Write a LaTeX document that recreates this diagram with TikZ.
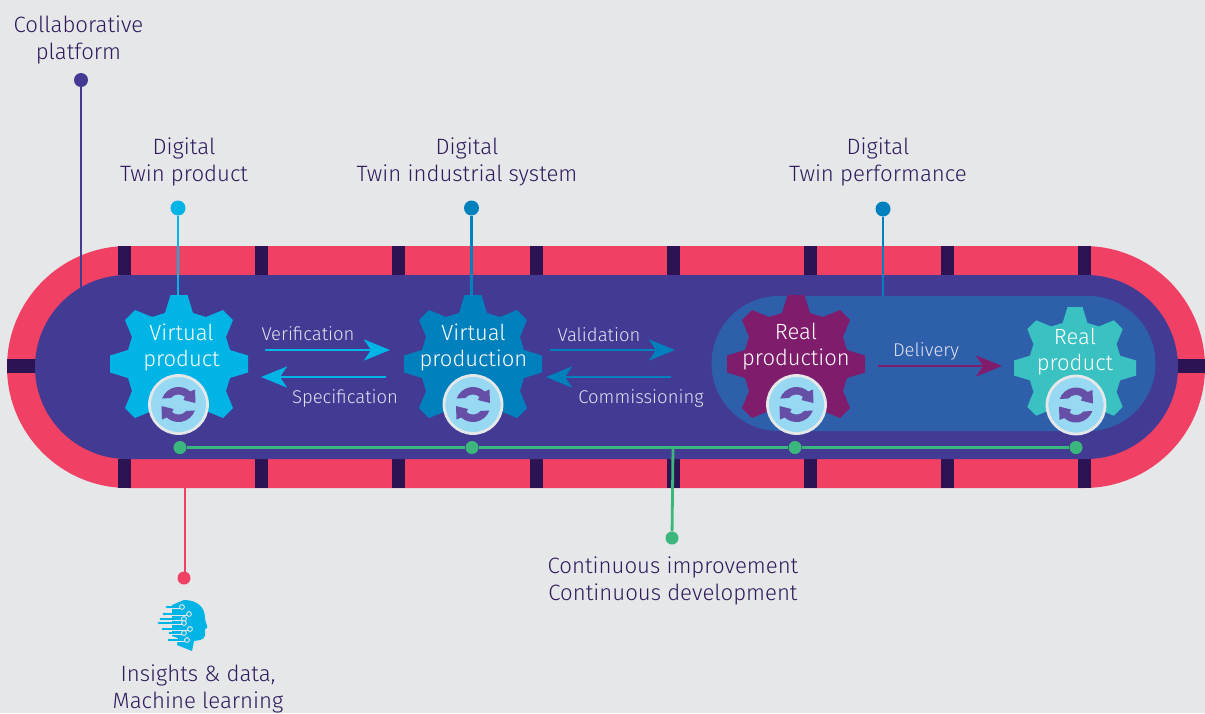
\documentclass[tikz,border=0pt]{standalone}
\usepackage{fontspec}
\setmainfont{Fira Sans Light}
\usetikzlibrary{arrows.meta}
\definecolor{bg}{HTML}{E6E7E9}
\definecolor{ink}{HTML}{2E1A5C}
\definecolor{belt}{HTML}{F04164}
\definecolor{tick}{HTML}{2C1454}
\definecolor{indigo}{HTML}{433A93}
\definecolor{zone}{HTML}{2E5FAB}
\definecolor{cyan1}{HTML}{00B5E5}
\definecolor{blue2}{HTML}{0080BC}
\definecolor{plum}{HTML}{7F1D6C}
\definecolor{teal1}{HTML}{3AC1C2}
\definecolor{green1}{HTML}{3BB77E}
\definecolor{disc}{HTML}{97D9F2}
\definecolor{rim}{HTML}{E6E7E9}
\definecolor{loopc}{HTML}{664FA6}
\definecolor{pale}{HTML}{E2E1F2}
\tikzset{x=1pt,y=-1pt,
 lab/.style={text=ink,align=center,font=\fontsize{22.2}{27}\selectfont,inner sep=0pt},
 gearlab/.style={text=white,align=center,font=\fontsize{22}{26}\selectfont,inner sep=0pt},
 small/.style={text=pale,font=\fontsize{18.5}{20}\selectfont,inner sep=0pt},
 dot/.style={circle,inner sep=0pt,minimum size=#1},
 flow/.style={line width=2.8pt,-{Stealth[length=26pt,width=21pt,inset=7pt]}},
 wire/.style={line width=2.8pt},
}
\newcommand{\gearshape}[4]{% x y R colour
 \fill[#4,shift={(#1,#2)},scale=#3/69]
 (-8.5,-69) -- (8.5,-69) -- (14,-51) -- (27,-47) -- (44,-54) -- (54,-44) -- (47,-27) -- (51,-14) -- (69,-8.5)
 -- (69,8.5) -- (51,14) -- (47,27) -- (54,44) -- (44,54) -- (27,47) -- (14,51) -- (8.5,69) -- (-8.5,69)
 -- (-14,51) -- (-27,47) -- (-44,54) -- (-54,44) -- (-47,27) -- (-51,14) -- (-69,8.5) -- (-69,-8.5)
 -- (-51,-14) -- (-47,-27) -- (-54,-44) -- (-44,-54) -- (-27,-47) -- (-14,-51) -- cycle;}
\newcommand{\loopmark}[3]{% name x y
 \node[dot=58pt,fill=disc,draw=rim,line width=2.8pt] (#1) at (#2,#3) {};
 \fill[loopc,shift={(#2,#3)}]
 (-16.4,-6) arc[start angle=200,end angle=312,radius=17.5] -- (16.5,-15) -- (17,-1.5) -- (5,-4.5) -- (6.4,-7.7)
 arc[start angle=310,end angle=220,radius=10] -- cycle;
 \fill[loopc,shift={(#2,#3)}]
 (16.4,6) arc[start angle=20,end angle=132,radius=17.5] -- (-16.5,15) -- (-17,1.5) -- (-5,4.5) -- (-6.4,7.7)
 arc[start angle=130,end angle=40,radius=10] -- cycle;}
\begin{document}
\begin{tikzpicture}
\useasboundingbox (0,0) rectangle (1205,713);
\fill[bg] (0,0) rectangle (1205,713);
% belt
\fill[belt] (128,246) -- (1084,246) arc[start angle=-90,end angle=90,radius=121] -- (128,488) arc[start angle=90,end angle=270,radius=121] -- cycle;
\foreach \x in {118,255,392,530,667,804,941,1078}{
 \fill[tick] (\x,246) rectangle ++(13,29);
 \fill[tick] (\x,459) rectangle ++(13,29);}
\fill[tick] (7,359) rectangle (36,373);
\fill[tick] (1177,359) rectangle (1205,373);
% connector stems
\node[dot=14pt,fill=indigo] (collab) at (81,80) {};
\coordinate (collabEnd) at (81,292);
\draw[wire,indigo] (collab) -- (collabEnd);
\fill[indigo] (127,275) -- (1086,275) arc[start angle=-90,end angle=90,radius=92] -- (127,459) arc[start angle=90,end angle=270,radius=92] -- cycle;
\fill[zone] (779,296) -- (1088,296) arc[start angle=-90,end angle=90,radius=67.5] -- (779,431) arc[start angle=90,end angle=270,radius=67.5] -- cycle;
% gears
\gearshape{179}{364}{69}{cyan1}
\gearshape{473}{364}{69}{blue2}
\gearshape{796}{364}{69}{plum}
\gearshape{1075}{368}{61}{teal1}
\coordinate (g3) at (883,296);
\coordinate (g1top) at (178,296);
\coordinate (g2top) at (471.5,296);
\node[dot=15pt,fill=cyan1] (dtp) at (178,208) {};
\node[dot=15pt,fill=blue2] (dtis) at (471.5,208) {};
\node[dot=15pt,fill=blue2] (dtperf) at (883,209) {};
\draw[wire,cyan1] (dtp) -- (g1top);
\draw[wire,blue2] (dtis) -- (g2top);
\draw[wire,blue2] (dtperf) -- (g3);
% gear labels
\node[gearlab] at (181.5,347) {Virtual\\product};
\node[gearlab] at (473.5,347) {Virtual\\production};
\node[gearlab] at (796,347) {Real\\production};
\node[gearlab] at (1075,352) {Real\\product};
% flows
\coordinate (f1a) at (265,350); \coordinate (f1b) at (390,350);
\coordinate (f2a) at (386,377); \coordinate (f2b) at (261,377);
\coordinate (f3a) at (550,350); \coordinate (f3b) at (675,350);
\coordinate (f4a) at (671,377); \coordinate (f4b) at (546,377);
\coordinate (f5a) at (878,366); \coordinate (f5b) at (1002,366);
\draw[flow,cyan1] (f1a) -- (f1b);
\draw[flow,cyan1] (f2a) -- (f2b);
\draw[flow,blue2] (f3a) -- (f3b);
\draw[flow,blue2] (f4a) -- (f4b);
\draw[flow,plum] (f5a) -- (f5b);
\node[small] at (308,334) {Verification};
\node[small] at (345,398) {Specification};
\node[small] at (599,335) {Validation};
\node[small] at (641,398) {Commissioning};
\node[small] at (926,351) {Delivery};
% loops
\loopmark{l1}{178.5}{404.5}
\loopmark{l2}{473}{404.5}
\loopmark{l3}{796.5}{404.5}
\loopmark{l4}{1076}{405}
% green bus
\node[dot=13pt,fill=green1] (b1) at (180,447.5) {};
\node[dot=13pt,fill=green1] (b2) at (472,447.5) {};
\node[dot=13pt,fill=green1] (b3) at (795,447.5) {};
\node[dot=13pt,fill=green1] (b4) at (1076,447.5) {};
\node[dot=13pt,fill=green1] (cont) at (672,538) {};
\coordinate (bj) at (673,447.5);
\draw[wire,green1] (b1) -- (b2) -- (b3) -- (b4);
\draw[wire,green1] (bj) -- (cont);
% pink
\coordinate (beltb) at (185,488);
\node[dot=13pt,fill=belt] (ins) at (184,578) {};
\draw[wire,belt] (beltb) -- (beltb |- ins);
% head icon
\fill[cyan1] (184,600) .. controls (197,600) and (205,607) .. (205,618) .. controls (205,622) and (208,626) .. (207,628)
 -- (205,629) .. controls (205,634) and (206,639) .. (200,640) -- (194,641) -- (192,651) -- (177,645) -- (178,638) -- (172,636) -- (172,605) -- cycle;
\begin{scope}[line width=1.2pt,cyan1]
\foreach \a/\b/\c in {167/182/607,164/189/614,161/184/619,159/184/623,163/190/629,170/184/633,169/187/640}{
 \draw[bg,line width=3pt] (\a,\c) -- (\b,\c);
 \draw (\a,\c) -- (\b,\c);
 \fill[cyan1] (\a,\c) circle (1.4);
 \filldraw[draw=bg,fill=cyan1,line width=.9pt] (\b,\c) circle (2.4);}
\end{scope}
% outer labels
\node[lab] at (78.5,40) {Collaborative\\platform};
\node[lab] at (184,162) {Digital\\Twin product};
\node[lab] at (467,162) {Digital\\Twin industrial system};
\node[lab] at (878,162) {Digital\\Twin performance};
\node[lab] at (673,581) {Continuous improvement\\Continuous development};
\node[lab] at (198,689) {Insights \& data,\\Machine learning};
\end{tikzpicture}
\end{document}
